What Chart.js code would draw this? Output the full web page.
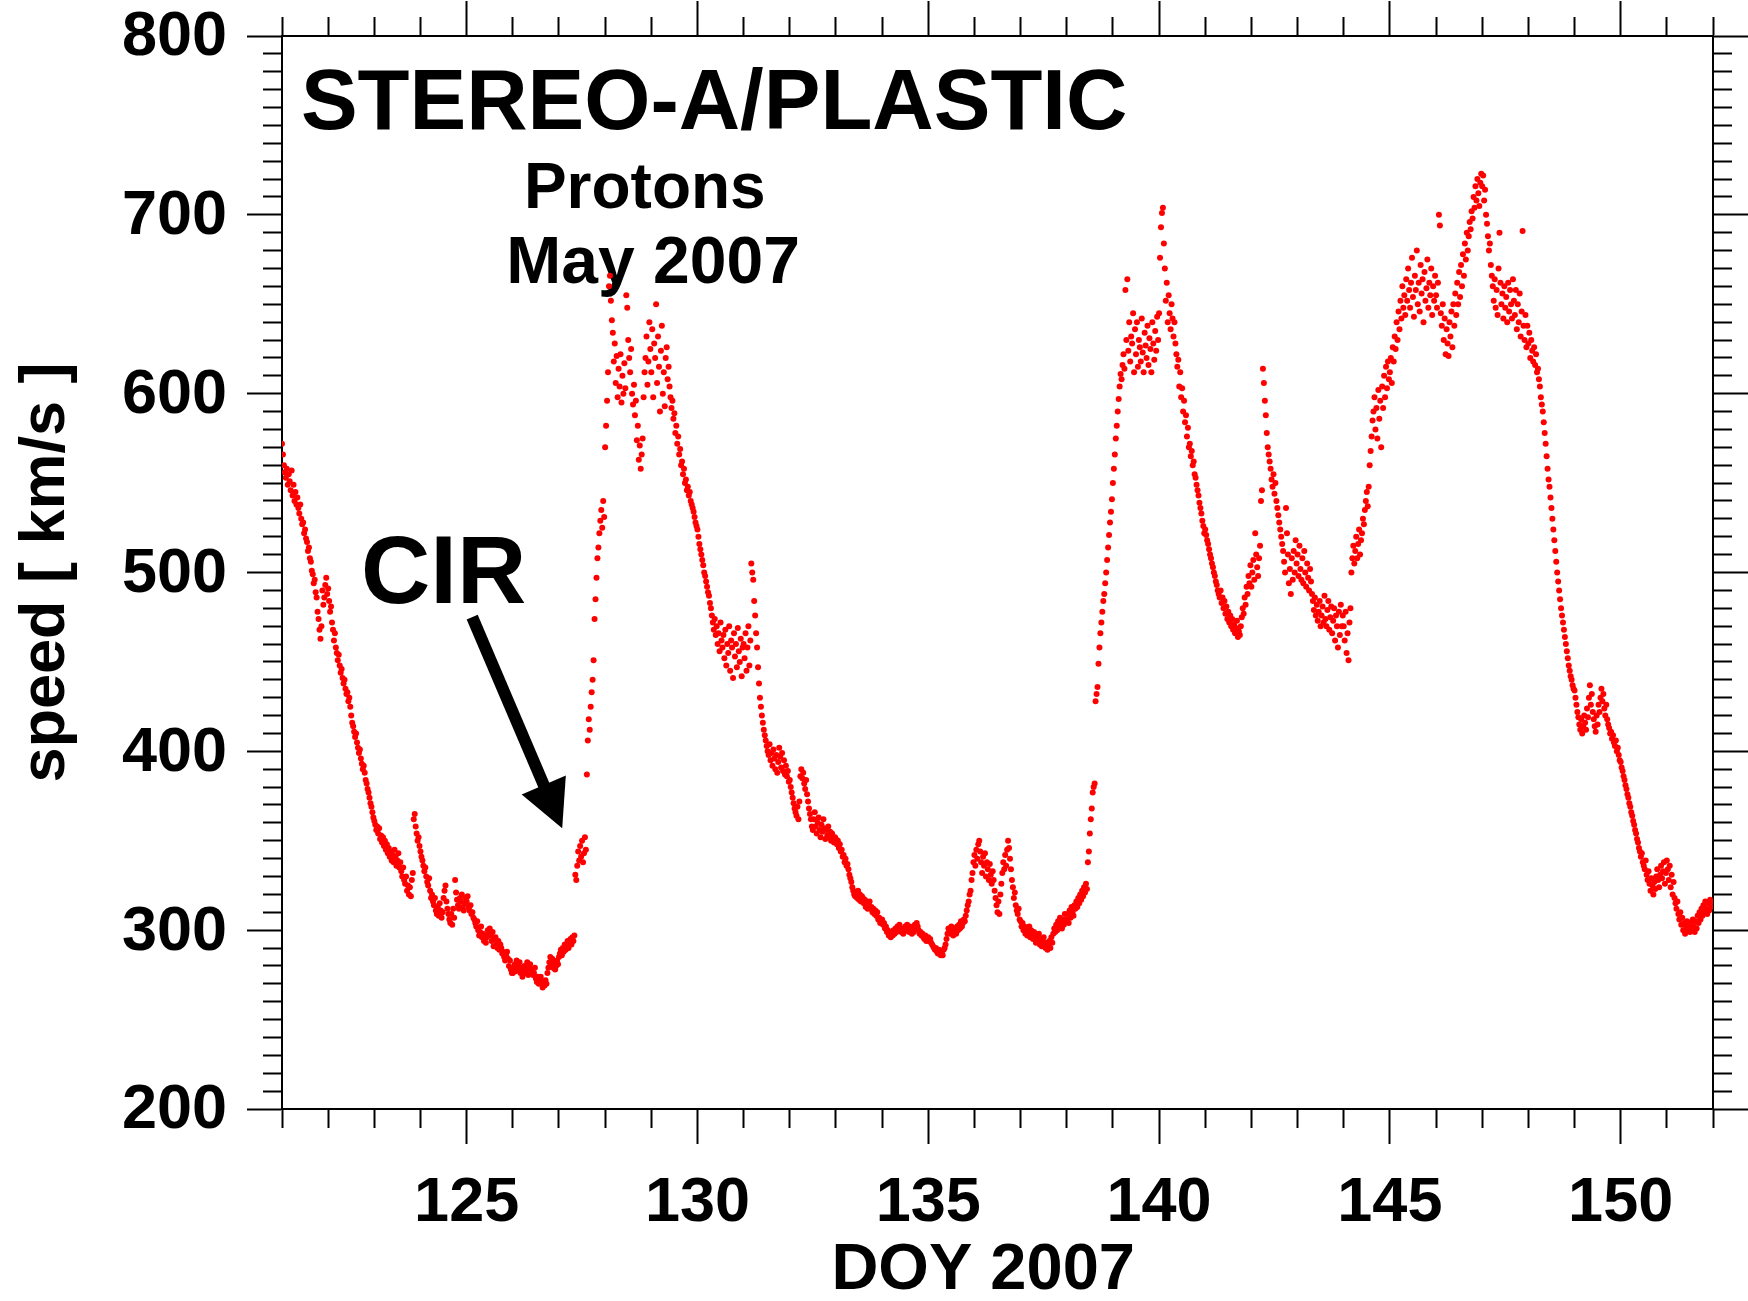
<!DOCTYPE html>
<html>
<head>
<meta charset="utf-8">
<script src="https://cdn.jsdelivr.net/npm/chart.js@4.4.1/dist/chart.umd.min.js"></script>
<style>
html,body{margin:0;padding:0;background:#fff;}
#wrap{width:1748px;height:1301px;}
</style>
</head>
<body>
<div id="wrap"><canvas id="c" width="1748" height="1301"></canvas></div>
<script>
// ---- Data: half-hourly proton speed [km/s] (DOY = day + k/48) ----
const startDoy = 121;
const samplesPerDay = 48;
const day121 = [572, 566, 560, 556, 553, 558, 549, 555, 551, 546, 557, 543, 549, 540, 545, 538, 542, 536, 533, 538, 530, 527, 528, 522, 524, 519, 517, 512, 514, 508, 506, 501, 499, 494, 496, 489, 486, 478, 474, 468, 463, 470, 490, 482, 486, 493, 497, 488];
const day122 = [491, 484, 478, 481, 472, 468, 462, 466, 458, 455, 451, 454, 448, 444, 446, 441, 438, 440, 435, 432, 433, 428, 430, 425, 420, 416, 414, 411, 408, 410, 405, 402, 399, 401, 396, 393, 390, 392, 388, 384, 382, 379, 377, 374, 371, 369, 366, 363];
const day123 = [361, 359, 356, 358, 354, 357, 351, 353, 349, 352, 347, 350, 345, 348, 343, 346, 341, 344, 339, 342, 338, 345, 341, 336, 339, 343, 335, 338, 333, 330, 335, 328, 326, 330, 322, 325, 320, 324, 319, 328, 332, 362, 365, 358, 354, 350, 352, 347];
const day124 = [344, 341, 339, 336, 333, 335, 330, 327, 325, 329, 322, 318, 320, 316, 314, 318, 311, 309, 313, 308, 315, 311, 307, 310, 318, 322, 325, 316, 312, 309, 306, 304, 309, 303, 312, 307, 328, 321, 317, 314, 312, 318, 316, 320, 313, 311, 315, 318];
const day125 = [316, 319, 313, 311, 314, 309, 310, 307, 306, 304, 302, 305, 300, 297, 299, 302, 296, 298, 294, 297, 293, 296, 300, 298, 301, 297, 294, 299, 291, 295, 296, 292, 290, 294, 289, 292, 290, 287, 288, 285, 283, 286, 288, 284, 280, 283, 278, 276];
const day126 = [276, 279, 281, 277, 283, 280, 278, 282, 276, 279, 274, 277, 280, 276, 278, 282, 275, 279, 281, 277, 278, 275, 276, 279, 273, 271, 274, 270, 272, 274, 270, 268, 271, 269, 272, 270, 276, 279, 282, 285, 281, 284, 279, 282, 278, 280, 283, 281];
const day127 = [285, 287, 289, 286, 290, 288, 292, 289, 291, 294, 290, 293, 295, 292, 296, 294, 297, 331, 328, 336, 344, 339, 347, 341, 350, 338, 343, 352, 345, 387, 406, 418, 412, 425, 433, 440, 451, 474, 485, 497, 508, 514, 522, 529, 535, 525, 540, 531];
const day128 = [570, 582, 596, 612, 660, 666, 652, 641, 634, 618, 628, 606, 621, 598, 614, 604, 622, 595, 610, 600, 617, 603, 655, 648, 630, 620, 612, 625, 600, 594, 605, 588, 596, 574, 582, 563, 571, 558, 566, 575, 598, 612, 620, 632, 605, 618, 640, 625];
const day129 = [612, 636, 598, 628, 620, 650, 606, 632, 615, 590, 624, 638, 600, 612, 593, 620, 626, 608, 615, 604, 598, 592, 596, 586, 589, 578, 582, 572, 576, 566, 569, 560, 562, 555, 558, 550, 552, 546, 548, 543, 545, 540, 538, 536, 534, 531, 528, 526];
const day130 = [524, 520, 516, 513, 510, 507, 504, 500, 498, 495, 492, 489, 487, 483, 480, 476, 472, 468, 474, 465, 470, 460, 466, 456, 472, 462, 458, 465, 452, 468, 448, 460, 455, 470, 445, 462, 458, 441, 466, 453, 460, 447, 469, 456, 450, 463, 442, 458];
const day131 = [460, 452, 466, 445, 458, 470, 448, 462, 505, 500, 496, 484, 476, 466, 458, 447, 438, 430, 425, 420, 416, 412, 409, 406, 403, 400, 398, 404, 395, 399, 392, 401, 396, 390, 398, 388, 394, 402, 397, 391, 399, 389, 395, 387, 392, 386, 389, 383];
const day132 = [384, 380, 377, 374, 371, 368, 366, 364, 369, 362, 372, 386, 390, 385, 388, 382, 379, 384, 376, 372, 368, 365, 362, 358, 356, 362, 366, 358, 354, 360, 363, 356, 352, 359, 355, 362, 357, 351, 356, 353, 358, 352, 355, 350, 354, 351, 349, 352];
const day133 = [351, 348, 350, 346, 348, 344, 345, 341, 342, 338, 340, 336, 337, 334, 331, 329, 327, 324, 322, 320, 319, 321, 318, 322, 317, 320, 316, 319, 318, 315, 317, 313, 316, 312, 314, 316, 312, 313, 310, 312, 309, 311, 308, 310, 306, 307, 304, 305];
const day134 = [306, 303, 304, 301, 302, 299, 300, 297, 298, 296, 299, 297, 300, 298, 301, 299, 302, 300, 303, 301, 299, 300, 298, 301, 302, 300, 303, 301, 299, 302, 300, 298, 301, 299, 303, 301, 304, 302, 300, 298, 299, 297, 298, 296, 295, 297, 294, 295];
const day135 = [296, 294, 295, 293, 292, 291, 290, 289, 290, 288, 287, 289, 287, 286, 288, 286, 289, 290, 292, 295, 298, 301, 300, 298, 302, 299, 297, 300, 301, 298, 302, 300, 303, 301, 305, 302, 304, 306, 305, 308, 311, 314, 316, 320, 322, 328, 332, 338];
const day136 = [342, 336, 345, 340, 348, 350, 344, 338, 332, 341, 336, 343, 330, 338, 334, 328, 337, 331, 326, 333, 328, 322, 318, 314, 310, 316, 309, 320, 326, 332, 338, 334, 342, 336, 345, 350, 346, 340, 334, 328, 324, 318, 321, 314, 311, 309, 312, 306];
const day137 = [305, 302, 304, 300, 302, 298, 301, 297, 299, 302, 296, 300, 298, 295, 299, 296, 293, 297, 294, 298, 292, 295, 291, 294, 296, 292, 290, 293, 289, 291, 294, 290, 296, 293, 298, 301, 299, 303, 300, 305, 302, 307, 304, 301, 306, 303, 309, 305];
const day138 = [306, 309, 304, 311, 307, 313, 310, 308, 314, 312, 316, 313, 318, 315, 320, 317, 322, 319, 324, 321, 326, 323, 338, 344, 354, 362, 368, 377, 380, 382, 428, 432, 436, 449, 458, 466, 472, 478, 484, 488, 494, 500, 507, 514, 521, 528, 534, 541];
const day139 = [550, 558, 566, 575, 582, 590, 597, 604, 611, 608, 616, 622, 614, 658, 630, 664, 624, 640, 618, 632, 628, 645, 612, 636, 622, 640, 615, 630, 626, 618, 642, 623, 612, 634, 627, 620, 638, 616, 631, 625, 612, 640, 628, 619, 635, 624, 643, 630];
const day140 = [645, 676, 693, 701, 704, 684, 670, 652, 662, 640, 655, 645, 636, 650, 642, 632, 640, 628, 622, 615, 619, 604, 612, 598, 603, 590, 596, 584, 588, 576, 581, 570, 572, 565, 568, 560, 562, 555, 553, 549, 546, 543, 539, 536, 533, 529, 526, 522];
const day141 = [524, 521, 518, 516, 513, 510, 508, 505, 503, 500, 498, 495, 493, 490, 488, 486, 490, 483, 486, 480, 484, 477, 481, 474, 478, 472, 476, 470, 474, 468, 471, 466, 469, 473, 464, 467, 465, 470, 475, 480, 477, 486, 482, 492, 488, 498, 494, 504];
const day142 = [492, 500, 507, 496, 522, 510, 503, 498, 508, 515, 540, 546, 614, 606, 596, 588, 578, 570, 566, 562, 558, 552, 548, 555, 544, 550, 540, 536, 532, 528, 524, 520, 516, 512, 506, 500, 536, 522, 510, 494, 502, 488, 508, 496, 512, 500, 518, 505];
const day143 = [510, 498, 515, 502, 496, 508, 494, 512, 500, 492, 505, 497, 490, 502, 495, 488, 484, 479, 486, 476, 482, 473, 478, 484, 470, 476, 481, 472, 487, 474, 470, 479, 484, 468, 475, 481, 466, 473, 480, 462, 476, 470, 458, 478, 465, 482, 470, 476];
const day144 = [470, 462, 478, 455, 466, 451, 472, 480, 500, 508, 515, 505, 512, 520, 508, 516, 524, 510, 518, 522, 530, 527, 535, 540, 545, 537, 548, 560, 568, 576, 585, 590, 598, 580, 592, 575, 602, 586, 596, 570, 604, 592, 610, 598, 615, 603, 618, 608];
const day145 = [612, 620, 606, 626, 618, 632, 625, 640, 630, 646, 636, 652, 642, 660, 648, 655, 644, 664, 652, 670, 658, 648, 662, 676, 654, 643, 666, 658, 680, 650, 662, 646, 672, 656, 664, 640, 668, 652, 659, 675, 648, 662, 655, 670, 644, 660, 652, 666];
const day146 = [655, 648, 662, 700, 694, 645, 638, 650, 630, 642, 622, 636, 628, 621, 640, 632, 646, 626, 650, 638, 656, 644, 662, 650, 668, 654, 672, 660, 678, 666, 684, 675, 690, 680, 688, 696, 692, 702, 698, 710, 704, 716, 708, 720, 712, 705, 718, 723];
const day147 = [716, 722, 708, 714, 700, 695, 688, 680, 684, 672, 666, 660, 652, 664, 648, 658, 644, 670, 690, 662, 650, 656, 642, 660, 648, 654, 640, 662, 646, 658, 650, 642, 664, 652, 644, 658, 636, 650, 640, 656, 632, 646, 691, 638, 630, 644, 626, 638];
const day148 = [628, 634, 620, 630, 624, 618, 626, 616, 622, 612, 614, 608, 604, 598, 594, 590, 584, 578, 572, 565, 558, 552, 548, 542, 536, 530, 524, 518, 512, 506, 500, 495, 490, 485, 480, 476, 472, 468, 464, 460, 456, 452, 448, 445, 442, 440, 437, 435];
const day149 = [434, 430, 426, 422, 419, 415, 412, 418, 410, 414, 420, 416, 412, 424, 419, 430, 437, 426, 432, 422, 418, 414, 411, 420, 415, 426, 422, 430, 435, 428, 432, 424, 420, 426, 418, 415, 413, 410, 411, 407, 409, 405, 403, 406, 400, 402, 398, 395];
const day150 = [394, 391, 389, 386, 384, 381, 379, 376, 374, 371, 369, 366, 364, 361, 359, 356, 354, 351, 349, 346, 344, 341, 343, 338, 336, 334, 339, 331, 328, 333, 326, 322, 329, 325, 320, 327, 323, 330, 334, 328, 324, 331, 336, 329, 333, 338, 326, 332];
const day151 = [339, 334, 328, 336, 324, 331, 320, 327, 318, 315, 312, 316, 309, 306, 310, 303, 307, 300, 304, 298, 302, 305, 300, 303, 299, 304, 301, 306, 302, 299, 305, 301, 308, 304, 310, 306, 312, 308, 314, 310, 316, 312, 309, 315, 311, 317, 313, 316];

const dailySpeeds = [day121, day122, day123, day124, day125, day126, day127, day128, day129, day130,
  day131, day132, day133, day134, day135, day136, day137, day138, day139, day140, day141,
  day142, day143, day144, day145, day146, day147, day148, day149, day150, day151];

// ---- Axes ----
const xRange = [121, 152];
const yRange = [200, 800];
const xMajorStep = 5;   // labelled ticks 125 ... 150
const yMajorStep = 100; // labelled ticks 200 ... 800

// ---- Texts ----
const titleText = 'STEREO-A/PLASTIC';
const subText1 = 'Protons';
const subText2 = 'May 2007';
const cirText = 'CIR';
const xTitle = 'DOY 2007';
const yTitle = 'speed [ km/s ]';

// annotation anchors in data units [DOY, km/s]
const titleAnchor = [121.41, 748];
const sub1Anchor = [128.86, 704];
const sub2Anchor = [129.04, 662];
const cirAnchor = [122.71, 483];
const arrowTail = [125.12, 475];
const arrowTip = [127.07, 357];
const xTitleDoy = 136.19;

// build points
const points = [];
dailySpeeds.forEach((arr, d) => {
  arr.forEach((v, k) => {
    if (v !== null) points.push({x: startDoy + d + k / samplesPerDay, y: v});
  });
});

const FAMILY = '"Liberation Sans", Arial, Helvetica, sans-serif';
const tickFont = {family: FAMILY, weight: 'bold', size: 63};
const titleFont = {family: FAMILY, weight: 'bold', size: 63, lineHeight: 1};

function zeroPad(s) { s.paddingTop = 0; s.paddingBottom = 0; s.paddingLeft = 0; s.paddingRight = 0; }

const dashOuterFirst = (step) => (ctx) => (ctx.tick && Math.round(ctx.tick.value) % step === 0) ? [] : [0, 16, 18, 200];
const dashInnerFirst = (step) => (ctx) => (ctx.tick && Math.round(ctx.tick.value) % step === 0) ? [] : [18, 200];

const gridBase = {drawOnChartArea: false, drawTicks: true, tickLength: 35, tickColor: '#000', tickWidth: 2};
const borderBase = {display: true, color: '#000', width: 2};

const annotPlugin = {
  id: 'annot',
  beforeDatasetsDraw(chart) {
    const {ctx} = chart;
    const xs = chart.scales.x, ys = chart.scales.y;
    const px = v => xs.getPixelForValue(v), py = v => ys.getPixelForValue(v);
    ctx.save();
    ctx.fillStyle = '#000';
    ctx.strokeStyle = '#000';
    ctx.textBaseline = 'alphabetic';
    ctx.font = 'bold 85px ' + FAMILY;
    ctx.textAlign = 'left';
    ctx.fillText(titleText, px(titleAnchor[0]), py(titleAnchor[1]));
    ctx.font = 'bold 64px ' + FAMILY;
    ctx.textAlign = 'center';
    ctx.fillText(subText1, px(sub1Anchor[0]), py(sub1Anchor[1]));
    ctx.font = 'bold 66px ' + FAMILY;
    ctx.fillText(subText2, px(sub2Anchor[0]), py(sub2Anchor[1]));
    ctx.font = 'bold 96px ' + FAMILY;
    ctx.textAlign = 'left';
    ctx.fillText(cirText, px(cirAnchor[0]), py(cirAnchor[1]));
    // x axis title, below the tick labels
    ctx.font = 'bold 65px ' + FAMILY;
    ctx.textAlign = 'center';
    ctx.textBaseline = 'middle';
    ctx.fillText(xTitle, px(xTitleDoy), xs.bottom - 30);
    // arrow
    const tx = px(arrowTail[0]), ty = py(arrowTail[1]);
    const hx = px(arrowTip[0]), hy = py(arrowTip[1]);
    const dx = hx - tx, dy = hy - ty, L = Math.hypot(dx, dy);
    const ux = dx / L, uy = dy / L;
    const headLen = 47, headHalf = 24;
    const bx = hx - ux * headLen, by = hy - uy * headLen;
    ctx.lineWidth = 12;
    ctx.lineCap = 'butt';
    ctx.beginPath();
    ctx.moveTo(tx, ty);
    ctx.lineTo(bx + ux * 3, by + uy * 3);
    ctx.stroke();
    ctx.beginPath();
    ctx.moveTo(hx, hy);
    ctx.lineTo(bx - uy * headHalf, by + ux * headHalf);
    ctx.lineTo(bx + uy * headHalf, by - ux * headHalf);
    ctx.closePath();
    ctx.fill();
    ctx.restore();
  }
};

new Chart(document.getElementById('c'), {
  type: 'scatter',
  data: {
    datasets: [{
      data: points,
      backgroundColor: '#ff0000',
      borderWidth: 0,
      pointRadius: 3,
      pointHoverRadius: 3,
      showLine: false
    }]
  },
  options: {
    responsive: false,
    devicePixelRatio: 1,
    animation: false,
    layout: {padding: 0},
    plugins: {legend: {display: false}, tooltip: {enabled: false}, title: {display: false}},
    scales: {
      x: {
        type: 'linear', position: 'bottom', min: xRange[0], max: xRange[1],
        ticks: {stepSize: 1, autoSkip: false, maxRotation: 0, minRotation: 0, color: '#000', font: tickFont, padding: 22,
          callback: v => (Math.round(v) % xMajorStep === 0 ? String(v) : '')},
        grid: Object.assign({}, gridBase, {tickBorderDash: dashInnerFirst(xMajorStep)}),
        border: borderBase,
        afterFit: s => { s.height = 192; zeroPad(s); }
      },
      x2: {
        type: 'linear', position: 'top', min: xRange[0], max: xRange[1],
        ticks: {stepSize: 1, autoSkip: false, display: false},
        grid: Object.assign({}, gridBase, {tickBorderDash: dashOuterFirst(xMajorStep)}),
        border: borderBase,
        afterFit: s => { s.height = 36; zeroPad(s); }
      },
      y: {
        type: 'linear', position: 'left', min: yRange[0], max: yRange[1],
        ticks: {stepSize: 10, autoSkip: false, color: '#000', font: tickFont, padding: 20, labelOffset: 2,
          callback: v => (Math.round(v) % yMajorStep === 0 ? String(v) : '')},
        grid: Object.assign({}, gridBase, {tickBorderDash: dashOuterFirst(yMajorStep)}),
        border: borderBase,
        title: {display: true, text: yTitle, color: '#000', font: titleFont, padding: {top: 15, bottom: 0}},
        afterFit: s => { s.width = 282; zeroPad(s); }
      },
      y2: {
        type: 'linear', position: 'right', min: yRange[0], max: yRange[1],
        ticks: {stepSize: 10, autoSkip: false, display: false},
        grid: Object.assign({}, gridBase, {tickBorderDash: dashInnerFirst(yMajorStep)}),
        border: borderBase,
        afterFit: s => { s.width = 35; zeroPad(s); }
      }
    }
  },
  plugins: [annotPlugin]
});
</script>
</body>
</html>
